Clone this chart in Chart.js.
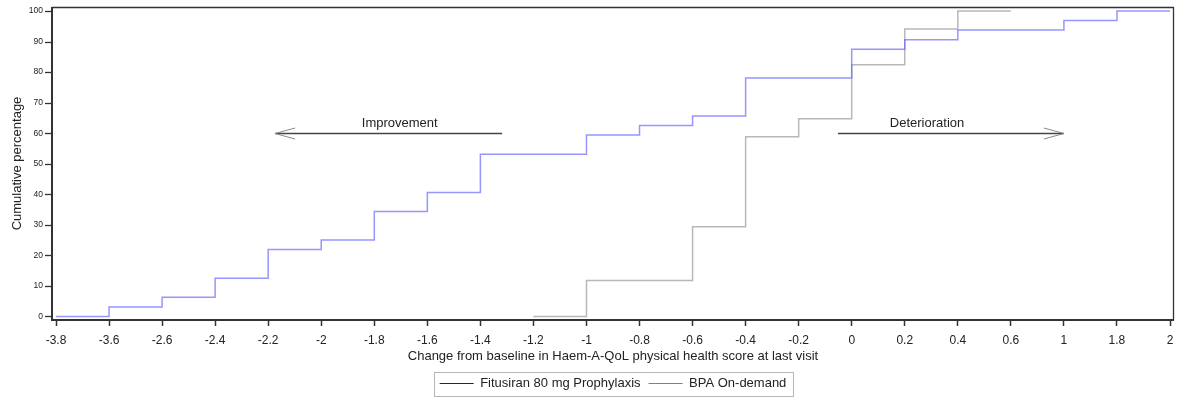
<!DOCTYPE html>
<html><head><meta charset="utf-8">
<script src="https://cdn.jsdelivr.net/npm/chart.js@4.4.1/dist/chart.umd.min.js"></script>
<style>html,body{margin:0;padding:0;background:#fff;}#wrap{width:1187px;height:400px;}</style>
</head><body><div id="wrap"><canvas id="c" width="1187" height="400"></canvas></div>
<script>
// ---- data ----
const categories = ['-3.8','-3.6','-2.6','-2.4','-2.2','-2','-1.8','-1.6','-1.4','-1.2','-1','-0.8','-0.6','-0.4','-0.2','0','0.2','0.4','0.6','1','1.8','2'];
const fitusiranValues = [0, 3.1, 6.3, 12.5, 21.9, 25.0, 34.4, 40.6, 53.1, 53.1, 59.4, 62.5, 65.6, 78.1, 78.1, 87.5, 90.6, 93.8, 93.8, 96.9, 100, 100];
const bpaValues = [null, null, null, null, null, null, null, null, null, 0, 11.8, 11.8, 29.4, 58.8, 64.7, 82.4, 94.1, 100, 100, null, null, null];
const seriesNames = ['Fitusiran 80 mg Prophylaxis', 'BPA On-demand'];
const yTickValues = [0, 10, 20, 30, 40, 50, 60, 70, 80, 90, 100];
const xTitle = 'Change from baseline in Haem-A-QoL physical health score at last visit';
const yTitle = 'Cumulative percentage';
const arrowTexts = ['Improvement', 'Deterioration'];
const arrowTails = [8.41, 14.74];   // category index (fractional)
const arrowTips = [4.13, 19.0];
const arrowLevel = [60, 60];       // y value
const arrowTextAt = [6.48, 16.42];
const arrowTextLevel = [62, 62];

const FONT = "'Liberation Sans', Arial, sans-serif";
const INK = '#222';

const framePlugin = {
  id: 'frame',
  afterDatasetsDraw(chart) {
    const {ctx, scales: {x, y}} = chart;
    ctx.save();
    for (let i = 0; i < arrowTexts.length; i++) {
      const yy = Math.round(y.getPixelForValue(arrowLevel[i])) + 0.5;
      const x0 = x.getPixelForValue(arrowTails[i]);
      const x1 = x.getPixelForValue(arrowTips[i]);
      ctx.strokeStyle = '#444';
      ctx.lineWidth = 1.3;
      ctx.beginPath(); ctx.moveTo(x0, yy); ctx.lineTo(x1, yy); ctx.stroke();
      const dir = x1 < x0 ? 1 : -1;
      ctx.strokeStyle = '#8a8a8a';
      ctx.lineWidth = 1;
      ctx.beginPath();
      ctx.moveTo(x1 + dir * 20, yy - 5.5); ctx.lineTo(x1, yy); ctx.lineTo(x1 + dir * 20, yy + 5.5);
      ctx.stroke();
      ctx.fillStyle = INK;
      ctx.font = '13px ' + FONT;
      ctx.textAlign = 'center';
      ctx.textBaseline = 'alphabetic';
      ctx.fillText(arrowTexts[i], x.getPixelForValue(arrowTextAt[i]), y.getPixelForValue(arrowTextLevel[i]));
    }
    ctx.restore();
  },
  afterDraw(chart) {
    const {ctx, chartArea: a, scales: {y}} = chart;
    ctx.save();
    ctx.strokeStyle = '#333';
    ctx.lineWidth = 1.3;
    ctx.beginPath();
    ctx.moveTo(52, a.top + 0.5); ctx.lineTo(a.right + 3.5, a.top + 0.5); ctx.lineTo(a.right + 3.5, a.bottom);
    ctx.stroke();
    ctx.lineWidth = 2;
    ctx.beginPath();
    ctx.moveTo(52, a.top); ctx.lineTo(52, a.bottom); ctx.lineTo(a.right + 4, a.bottom);
    ctx.stroke();
    ctx.lineWidth = 1.3;
    yTickValues.forEach(v => {
      const py = Math.round(y.getPixelForValue(v)) + 0.5;
      ctx.beginPath(); ctx.moveTo(45, py); ctx.lineTo(51, py); ctx.stroke();
    });
    const hb = chart.legend && chart.legend.legendHitBoxes;
    if (hb && hb.length) {
      const l = hb[0].left - 6, r = hb[hb.length - 1].left + hb[hb.length - 1].width + 6;
      const t = hb[0].top - 5, b = hb[0].top + hb[0].height + 6;
      ctx.strokeStyle = '#b5b5b5';
      ctx.lineWidth = 1;
      ctx.strokeRect(Math.round(l) + 0.5, Math.round(t) + 0.5, Math.round(r - l), Math.round(b - t));
    }
    ctx.restore();
  }
};

new Chart(document.getElementById('c'), {
  type: 'line',
  data: {
    labels: categories,
    datasets: [
      { label: seriesNames[0], data: fitusiranValues, borderColor: 'rgba(100,100,255,0.68)', borderWidth: 1.5, stepped: true, pointRadius: 0, fill: false, spanGaps: false },
      { label: seriesNames[1], data: bpaValues, borderColor: 'rgba(150,150,150,0.68)', borderWidth: 1.5, stepped: true, pointRadius: 0, fill: false, spanGaps: false }
    ]
  },
  options: {
    responsive: false,
    animation: false,
    devicePixelRatio: 1,
    layout: { padding: { top: 7, right: 17, bottom: 0, left: 0 } },
    plugins: {
      tooltip: { enabled: false },
      legend: {
        position: 'bottom',
        fullSize: false,
        labels: {
          usePointStyle: true,
          pointStyle: 'line',
          pointStyleWidth: 34,
          padding: 8,
          color: INK,
          font: { size: 13, family: FONT },
          generateLabels(chart) {
            const cols = ['#1010d0', '#808080'];
            return Chart.defaults.plugins.legend.labels.generateLabels(chart).map((it, i) => {
              it.strokeStyle = cols[i]; it.fillStyle = cols[i]; it.lineWidth = 1.2; it.pointStyle = 'line';
              return it;
            });
          }
        }
      }
    },
    scales: {
      x: {
        type: 'category',
        offset: false,
        border: { display: false },
        grid: { display: true, drawOnChartArea: false, drawTicks: true, tickLength: 6, tickColor: '#333', tickWidth: 1.5 },
        ticks: { autoSkip: false, maxRotation: 0, padding: 7, color: INK, font: { size: 12, family: FONT } },
        title: { display: true, text: xTitle, color: INK, font: { size: 13, family: FONT }, padding: { top: 0, bottom: 5 } },
        afterFit(s) { s.height = 49; s.paddingLeft = 0; s.paddingRight = 0; }
      },
      y: {
        min: -1.15,
        max: 101.3,
        border: { display: false },
        grid: { display: false, drawTicks: false },
        afterBuildTicks(s) { s.ticks = yTickValues.map(v => ({ value: v })); },
        ticks: { padding: 13, color: INK, font: { size: 8.5, family: FONT } },
        title: { display: true, text: yTitle, color: INK, font: { size: 13, family: FONT }, padding: { top: 10, bottom: 0 } },
        afterFit(s) { s.width = 56; s.paddingTop = 0; s.paddingBottom = 0; }
      }
    }
  },
  plugins: [framePlugin]
});
</script>
</body></html>
